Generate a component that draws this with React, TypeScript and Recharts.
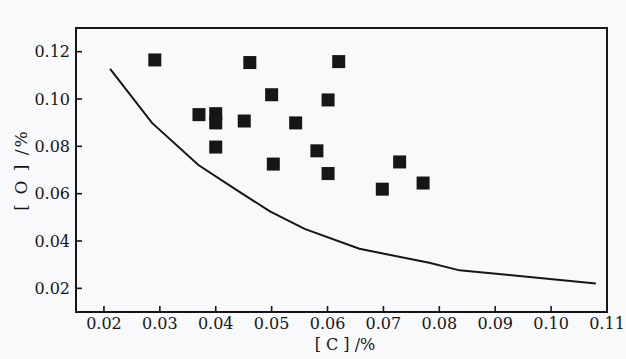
import {
  ScatterChart, Scatter, XAxis, YAxis, ZAxis, ReferenceArea, Label
} from 'recharts'

// measured samples: [C] % vs [O] %
const C_VALUES = [0.0291, 0.0461, 0.062, 0.050, 0.0601, 0.037, 0.040, 0.040, 0.0451, 0.0543, 0.040, 0.0581, 0.0503, 0.0601, 0.0729, 0.0698, 0.0771]
const O_VALUES = [0.1165, 0.1154, 0.1158, 0.1018, 0.0996, 0.0934, 0.0938, 0.0899, 0.0907, 0.0899, 0.0797, 0.0781, 0.0725, 0.0685, 0.0734, 0.0619, 0.0645]

// equilibrium curve
const CURVE_C = [0.0211, 0.0286, 0.0369, 0.0437, 0.0497, 0.0559, 0.0657, 0.0782, 0.0836, 0.0925, 0.108]
const CURVE_O = [0.1127, 0.0899, 0.0721, 0.0616, 0.0525, 0.0451, 0.0367, 0.0308, 0.0276, 0.0256, 0.022]

const X_TICKS = [0.02, 0.03, 0.04, 0.05, 0.06, 0.07, 0.08, 0.09, 0.10, 0.11]
const Y_TICKS = [0.02, 0.04, 0.06, 0.08, 0.10, 0.12]
const X_DOMAIN = [0.015, 0.11]
const Y_DOMAIN = [0.01, 0.13]

const points = C_VALUES.map((x, i) => ({ x, y: O_VALUES[i] }))
const curve = CURVE_C.map((x, i) => ({ x, y: CURVE_O[i] }))

const INK = '#161616'
const FONT = '"DejaVu Serif", "Liberation Serif", serif'
const fmt = (v: number) => v.toFixed(2)
const TICK_GAP = 6 // recharts default tickSize, still reserved with tickLine off
const TICK_LEN = 6

// label plus a short tick pointing into the plot
const XTick = ({ x, y, payload }: any) => (
  <g>
    <line x1={x} x2={x} y1={y - TICK_GAP} y2={y - TICK_GAP - TICK_LEN} stroke={INK} strokeWidth={1.6} />
    <text x={x} y={y} dy="0.71em" textAnchor="middle" fill={INK} fontSize={16} fontFamily={FONT}>
      {fmt(payload.value)}
    </text>
  </g>
)

const YTick = ({ x, y, payload }: any) => (
  <g>
    <line x1={x + TICK_GAP} x2={x + TICK_GAP + TICK_LEN} y1={y} y2={y} stroke={INK} strokeWidth={1.6} />
    <text x={x} y={y} dy="0.355em" textAnchor="end" fill={INK} fontSize={16} fontFamily={FONT}>
      {fmt(payload.value)}
    </text>
  </g>
)

const Square = (props: any) => {
  const { cx, cy } = props
  if (cx == null || cy == null) return <g />
  return <rect x={cx - 6.5} y={cy - 6.5} width={13} height={13} fill={INK} />
}

export default function App() {
  return (
    <div style={{ position: 'absolute', left: 0, top: 0, width: 626, height: 359, background: '#f8f9fb' }}>
      <ScatterChart width={626} height={359} margin={{ top: 28, right: 19, left: 0, bottom: 0 }}>
        <XAxis
          type="number"
          dataKey="x"
          domain={X_DOMAIN}
          ticks={X_TICKS}
          allowDataOverflow
          height={47}
          axisLine={false}
          tickLine={false}
          tickMargin={0}
          tick={<XTick />}
          interval={0}
        >
          <Label
            content={() => (
              <text x={345} y={350} textAnchor="middle" fill={INK} fontSize={16} fontFamily={FONT}>
                [ C ] /%
              </text>
            )}
          />
        </XAxis>
        <YAxis
          type="number"
          dataKey="y"
          domain={Y_DOMAIN}
          ticks={Y_TICKS}
          allowDataOverflow
          width={76}
          axisLine={false}
          tickLine={false}
          tickMargin={0}
          tick={<YTick />}
          interval={0}
        >
          <Label
            content={() => (
              <text x={21} y={170} transform="rotate(-90, 21, 170)" textAnchor="middle" dominantBaseline="central"
                fill={INK} fontSize={17} fontFamily={FONT} letterSpacing={2}>
                [ O ] /%
              </text>
            )}
          />
        </YAxis>
        <ZAxis range={[160, 160]} />
        <ReferenceArea
          x1={0.015} x2={0.11} y1={0.01} y2={0.13}
          fill="none" stroke={INK} strokeWidth={2} ifOverflow="visible"
        />
        <Scatter
          data={curve}
          line={{ stroke: INK, strokeWidth: 2 }}
          lineType="joint"
          shape={() => <g />}
          isAnimationActive={false}
        />
        <Scatter data={points} shape={Square} isAnimationActive={false} />
      </ScatterChart>
    </div>
  )
}
